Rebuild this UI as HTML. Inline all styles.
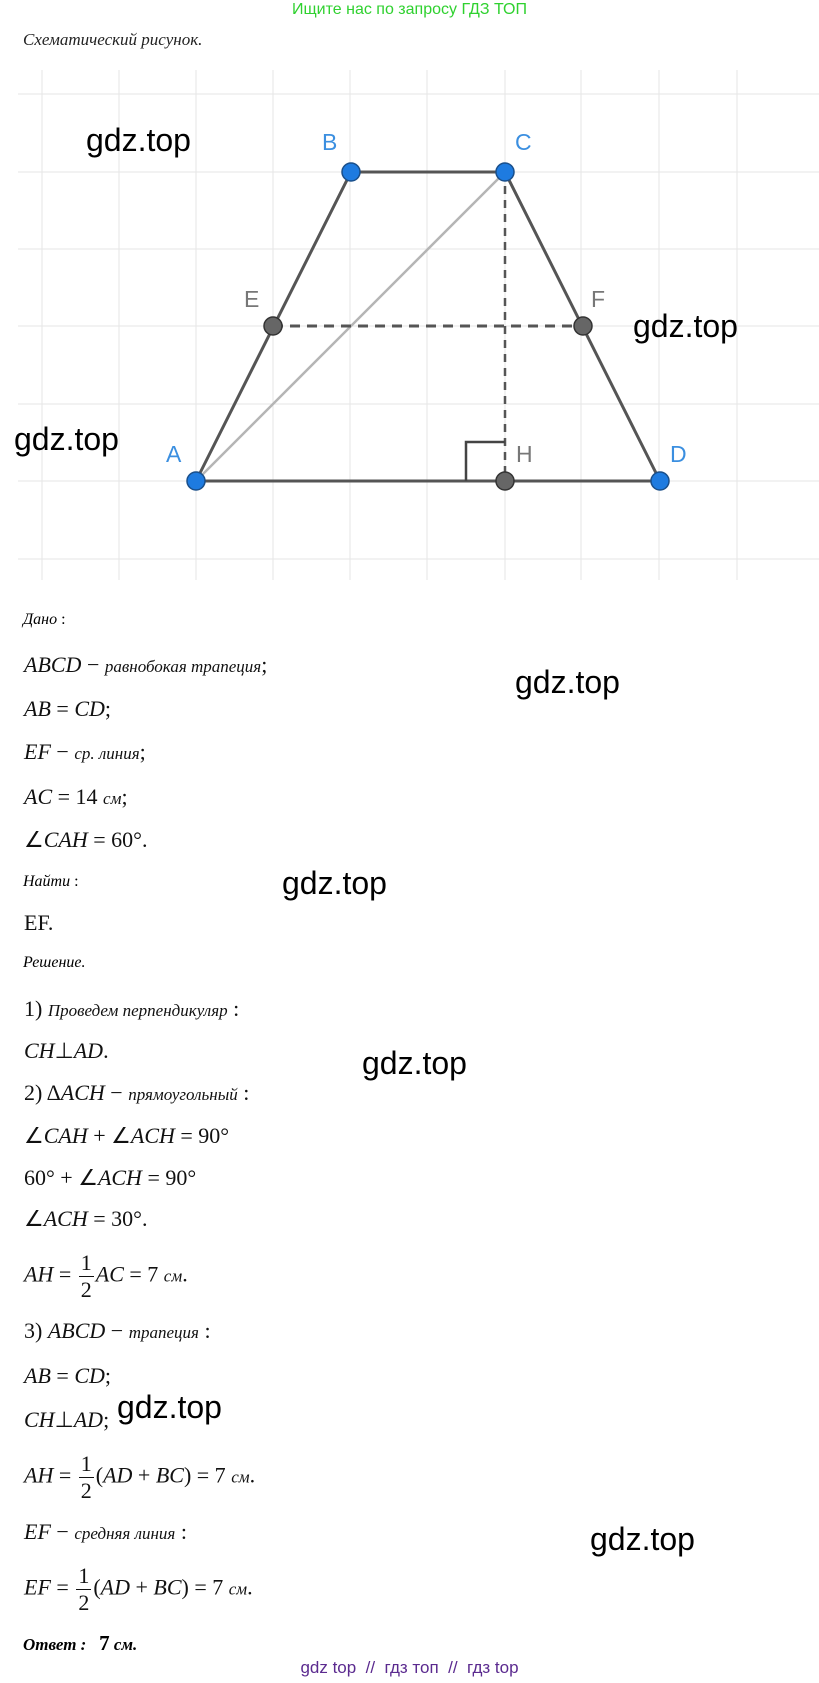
<!DOCTYPE html>
<html><head><meta charset="utf-8"><style>
body{margin:0;width:819px;height:1683px;background:#fff;position:relative;overflow:hidden;font-family:"Liberation Serif",serif;}
.a{position:absolute;white-space:nowrap;line-height:1;}
.m{font-size:22px;color:#111;}
.m i{font-style:italic;}
.r{font-style:italic;font-size:17px;}
.w{font-family:"Liberation Sans",sans-serif;font-size:32px;color:#000;}
.fr{display:inline-block;vertical-align:middle;text-align:center;font-style:normal;line-height:1;margin:0 2px;}
.fr span{display:block;padding:0 2px;}
.fr span:first-child{border-bottom:1px solid #111;padding-bottom:2px;}
.fr span:last-child{padding-top:2px;}
</style></head><body>
<div class="a" style="left:0;width:819px;text-align:center;top:2px;font-family:'Liberation Sans',sans-serif;font-size:16px;color:#2fd12f;">Ищите нас по запросу ГДЗ ТОП</div>
<div class="a" style="left:23px;top:31px;font-style:italic;font-size:17px;color:#222;">Схематический рисунок.</div>

<svg class="a" style="left:0;top:0" width="819" height="600">
<g stroke="#e6e6e6" stroke-width="1">
<line x1="42" y1="70" x2="42" y2="580"/><line x1="119" y1="70" x2="119" y2="580"/><line x1="196" y1="70" x2="196" y2="580"/><line x1="273" y1="70" x2="273" y2="580"/><line x1="350" y1="70" x2="350" y2="580"/><line x1="427" y1="70" x2="427" y2="580"/><line x1="505" y1="70" x2="505" y2="580"/><line x1="581" y1="70" x2="581" y2="580"/><line x1="659" y1="70" x2="659" y2="580"/><line x1="737" y1="70" x2="737" y2="580"/>
<line x1="18" y1="94" x2="819" y2="94"/><line x1="18" y1="172" x2="819" y2="172"/><line x1="18" y1="249" x2="819" y2="249"/><line x1="18" y1="326" x2="819" y2="326"/><line x1="18" y1="404" x2="819" y2="404"/><line x1="18" y1="481" x2="819" y2="481"/><line x1="18" y1="559" x2="819" y2="559"/>
</g>
<line x1="196" y1="481" x2="505" y2="172" stroke="#b5b5b5" stroke-width="2.5"/>
<polyline points="196,481 351,172 505,172 660,481 196,481" fill="none" stroke="#555" stroke-width="3"/>
<line x1="273" y1="326" x2="583" y2="326" stroke="#555" stroke-width="3" stroke-dasharray="10,7"/>
<line x1="505" y1="172" x2="505" y2="481" stroke="#555" stroke-width="2.5" stroke-dasharray="8,6"/>
<polyline points="505,442 466,442 466,481" fill="none" stroke="#444" stroke-width="2.5"/>
<g stroke="#1a4f8a" stroke-width="1.5" fill="#1e7be0">
<circle cx="196" cy="481" r="9"/><circle cx="351" cy="172" r="9"/><circle cx="505" cy="172" r="9"/><circle cx="660" cy="481" r="9"/>
</g>
<g stroke="#333" stroke-width="1.5" fill="#666">
<circle cx="273" cy="326" r="9"/><circle cx="583" cy="326" r="9"/><circle cx="505" cy="481" r="9"/>
</g>
<g font-family="Liberation Sans,sans-serif" font-size="23">
<text x="322" y="150" fill="#3b8fe0">B</text><text x="515" y="150" fill="#3b8fe0">C</text>
<text x="244" y="307" fill="#777">E</text><text x="591" y="307" fill="#777">F</text>
<text x="166" y="462" fill="#3b8fe0">A</text><text x="516" y="462" fill="#777">H</text><text x="670" y="462" fill="#3b8fe0">D</text>
</g>
</svg>

<div class="a w" style="left:86px;top:124px">gdz.top</div>
<div class="a w" style="left:633px;top:310px">gdz.top</div>
<div class="a w" style="left:14px;top:423px">gdz.top</div>
<div class="a w" style="left:515px;top:666px">gdz.top</div>
<div class="a w" style="left:282px;top:867px">gdz.top</div>
<div class="a w" style="left:362px;top:1047px">gdz.top</div>
<div class="a w" style="left:117px;top:1391px">gdz.top</div>
<div class="a w" style="left:590px;top:1523px">gdz.top</div>

<div class="a r" style="left:23px;top:612px;font-size:16px">Дано <span style="font-style:normal">:</span></div>
<div class="a m" style="left:24px;top:654px"><i>ABCD</i> − <span class="r">равнобокая трапеция</span>;</div>
<div class="a m" style="left:24px;top:698px"><i>AB</i> = <i>CD</i>;</div>
<div class="a m" style="left:24px;top:741px"><i>EF</i> − <span class="r">ср. линия</span>;</div>
<div class="a m" style="left:24px;top:786px"><i>AC</i> = 14 <span class="r">см</span>;</div>
<div class="a m" style="left:24px;top:829px">∠<i>CAH</i> = 60°.</div>
<div class="a r" style="left:23px;top:874px;font-size:16px">Найти <span style="font-style:normal">:</span></div>
<div class="a m" style="left:24px;top:912px">EF.</div>
<div class="a r" style="left:23px;top:955px;font-size:16px">Решение.</div>
<div class="a m" style="left:24px;top:998px">1) <span class="r">Проведем перпендикуляр</span> :</div>
<div class="a m" style="left:24px;top:1040px"><i>CH</i>⊥<i>AD</i>.</div>
<div class="a m" style="left:24px;top:1082px">2) Δ<i>ACH</i> − <span class="r">прямоугольный</span> :</div>
<div class="a m" style="left:24px;top:1125px">∠<i>CAH</i> + ∠<i>ACH</i> = 90°</div>
<div class="a m" style="left:24px;top:1167px">60° + ∠<i>ACH</i> = 90°</div>
<div class="a m" style="left:24px;top:1208px">∠<i>ACH</i> = 30°.</div>
<div class="a m" style="left:24px;top:1252px"><i>AH</i> = <span class="fr"><span>1</span><span>2</span></span><i>AC</i> = 7 <span class="r">см</span>.</div>
<div class="a m" style="left:24px;top:1320px">3) <i>ABCD</i> − <span class="r">трапеция</span> :</div>
<div class="a m" style="left:24px;top:1365px"><i>AB</i> = <i>CD</i>;</div>
<div class="a m" style="left:24px;top:1409px"><i>CH</i>⊥<i>AD</i>;</div>
<div class="a m" style="left:24px;top:1453px"><i>AH</i> = <span class="fr"><span>1</span><span>2</span></span>(<i>AD</i> + <i>BC</i>) = 7 <span class="r">см</span>.</div>
<div class="a m" style="left:24px;top:1521px"><i>EF</i> − <span class="r">средняя линия</span> :</div>
<div class="a m" style="left:24px;top:1565px"><i>EF</i> = <span class="fr"><span>1</span><span>2</span></span>(<i>AD</i> + <i>BC</i>) = 7 <span class="r">см</span>.</div>
<div class="a" style="left:23px;top:1633px;font-size:17px;font-weight:bold;font-style:italic;">Ответ : &nbsp; <span style="font-style:normal;font-size:21px">7</span> см.</div>
<div class="a" style="left:0;width:819px;text-align:center;top:1659px;font-family:'Liberation Sans',sans-serif;font-size:17px;color:#5b2a8f;">gdz top &nbsp;// &nbsp;гдз топ &nbsp;// &nbsp;гдз top</div>
</body></html>
